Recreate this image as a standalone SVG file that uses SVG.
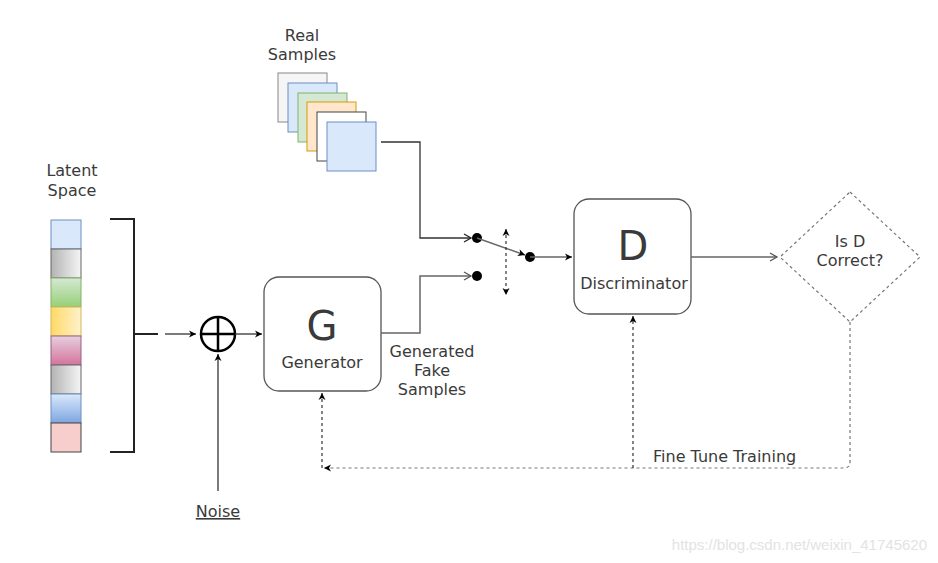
<svg xmlns="http://www.w3.org/2000/svg" width="938" height="563" viewBox="0 0 938 563">
<style>
  text { font-family: "DejaVu Sans", Verdana, sans-serif; fill: #3a3a3a; font-size: 16px; }
  .big { font-size: 40px; }
  .line { fill: none; stroke: #333333; stroke-width: 1.3; }
  .gline { fill: none; stroke: #666666; stroke-width: 1.5; }
  .dash { fill: none; stroke: #333333; stroke-width: 1.2; stroke-dasharray: 3 3; }
  .gdash { fill: none; stroke: #777777; stroke-width: 1.2; stroke-dasharray: 3 3; }
  .node { fill: #ffffff; stroke: #555555; stroke-width: 1.3; }
  .dot { fill: #000000; }
</style>
<defs>
  <marker id="tri" markerWidth="10" markerHeight="10" refX="8" refY="5" orient="auto-start-reverse" markerUnits="userSpaceOnUse">
    <path d="M1,1.5 L8,5 L1,8.5 L3,5 Z" fill="#000000"/>
  </marker>
  <marker id="open" markerWidth="12" markerHeight="12" refX="9" refY="6" orient="auto" markerUnits="userSpaceOnUse">
    <path d="M2,2 L9,6 L2,10" fill="none" stroke="#555555" stroke-width="1.3"/>
  </marker>
  <marker id="openk" markerWidth="12" markerHeight="12" refX="9" refY="6" orient="auto" markerUnits="userSpaceOnUse">
    <path d="M2,2 L9,6 L2,10" fill="none" stroke="#222222" stroke-width="1.3"/>
  </marker>
  <linearGradient id="gGray" x1="0" y1="0" x2="1" y2="0">
    <stop offset="0" stop-color="#b3b3b3"/><stop offset="1" stop-color="#f5f5f5"/>
  </linearGradient>
  <linearGradient id="gYellow" x1="0" y1="0" x2="1" y2="0">
    <stop offset="0" stop-color="#ffd966"/><stop offset="1" stop-color="#fff2cc"/>
  </linearGradient>
  <linearGradient id="gGreen" x1="0" y1="0" x2="0" y2="1">
    <stop offset="0" stop-color="#d5e8d4"/><stop offset="1" stop-color="#97d077"/>
  </linearGradient>
  <linearGradient id="gPink" x1="0" y1="0" x2="0" y2="1">
    <stop offset="0" stop-color="#e6d0de"/><stop offset="1" stop-color="#d5739d"/>
  </linearGradient>
  <linearGradient id="gBlue" x1="0" y1="0" x2="0" y2="1">
    <stop offset="0" stop-color="#dae8fc"/><stop offset="1" stop-color="#7ea6e0"/>
  </linearGradient>
</defs>
<rect width="938" height="563" fill="#ffffff"/>

<g id="latent-space">
  <text x="72" y="176" text-anchor="middle">Latent</text>
  <text x="72" y="196" text-anchor="middle">Space</text>
  <rect x="51" y="220" width="30" height="29" fill="#dae8fc" stroke="#6c8ebf"/>
  <rect x="51" y="249" width="30" height="29" fill="url(#gGray)" stroke="#666666"/>
  <rect x="51" y="278" width="30" height="29" fill="url(#gGreen)" stroke="#82b366"/>
  <rect x="51" y="307" width="30" height="29" fill="url(#gYellow)" stroke="#d6b656"/>
  <rect x="51" y="336" width="30" height="29" fill="url(#gPink)" stroke="#996185"/>
  <rect x="51" y="365" width="30" height="29" fill="url(#gGray)" stroke="#666666"/>
  <rect x="51" y="394" width="30" height="29" fill="url(#gBlue)" stroke="#6c8ebf"/>
  <rect x="51" y="423" width="30" height="29" fill="#f8cecc" stroke="#444444"/>
</g>

<g id="bracket">
  <path d="M110,219 H134 V452 H110 M134,334 H158" fill="none" stroke="#222222" stroke-width="2"/>
</g>

<g id="sum">
  <circle cx="218" cy="334" r="17" fill="#ffffff" stroke="#000000" stroke-width="2.5"/>
  <path d="M201,334 H235 M218,317 V351" stroke="#000000" stroke-width="2.5"/>
</g>

<g id="noise">
  <text x="218" y="517" text-anchor="middle" text-decoration="underline">Noise</text>
</g>

<g id="real-samples">
  <text x="302" y="41" text-anchor="middle">Real</text>
  <text x="302" y="60" text-anchor="middle">Samples</text>
  <rect x="278" y="73" width="49" height="49" fill="#f5f5f5" stroke="#888888"/>
  <rect x="288" y="83" width="49" height="49" fill="#dae8fc" stroke="#6c8ebf"/>
  <rect x="298" y="93" width="49" height="49" fill="#d5e8d4" stroke="#82b366"/>
  <rect x="307" y="102" width="49" height="49" fill="#ffe6cc" stroke="#d79b00"/>
  <rect x="317" y="112" width="49" height="49" fill="#ffffff" stroke="#444444"/>
  <rect x="327" y="122" width="49" height="49" fill="#dae8fc" stroke="#6c8ebf"/>
</g>

<g id="generator">
  <rect class="node" x="264" y="277" width="117" height="114" rx="15"/>
  <text class="big" x="322" y="340" text-anchor="middle">G</text>
  <text x="322" y="368" text-anchor="middle">Generator</text>
</g>

<g id="generated-label">
  <text x="432" y="357" text-anchor="middle">Generated</text>
  <text x="432" y="376" text-anchor="middle">Fake</text>
  <text x="432" y="395" text-anchor="middle">Samples</text>
</g>

<g id="switch">
  <circle class="dot" cx="477" cy="238" r="5"/>
  <circle class="dot" cx="477" cy="276" r="5"/>
  <circle class="dot" cx="530" cy="257" r="5"/>
</g>

<g id="discriminator">
  <rect class="node" x="574" y="199" width="117" height="115" rx="15"/>
  <text class="big" x="633" y="260" text-anchor="middle">D</text>
  <text x="634" y="289" text-anchor="middle">Discriminator</text>
</g>

<g id="decision">
  <path d="M850,192 L920,257 L850,322 L780,257 Z" fill="#ffffff" stroke="#777777" stroke-width="1.2" stroke-dasharray="3 3"/>
  <text x="850" y="247" text-anchor="middle">Is D</text>
  <text x="850" y="266" text-anchor="middle">Correct?</text>
</g>

<g id="connectors">
  <path class="line" d="M165,334 H196" marker-end="url(#tri)"/>
  <path class="line" d="M235,334 H262" marker-end="url(#tri)"/>
  <path class="line" d="M218,491 V354" marker-end="url(#tri)"/>
  <path class="line" d="M381,142 H420 V238 H471" marker-end="url(#openk)"/>
  <path class="gline" d="M381,333 H420 V276 H471" marker-end="url(#open)"/>
  <path class="gline" d="M477,238 L525,255" marker-end="url(#tri)"/>
  <path class="dash" d="M506,229 V295" marker-start="url(#tri)" marker-end="url(#tri)"/>
  <path class="gline" d="M530,257 H572" marker-end="url(#tri)"/>
  <path class="gline" d="M691,257 H777" marker-end="url(#open)"/>
  <path class="gdash" d="M850,322 V462 Q850,468 844,468 H324" marker-end="url(#tri)"/>
  <path class="dash" d="M322,468 V393" marker-end="url(#tri)"/>
  <path class="dash" d="M633,468 V316" marker-end="url(#tri)"/>
  <text x="653" y="462">Fine Tune Training</text>
</g>

<text x="927" y="550" text-anchor="end" style="font-family: 'Liberation Sans', Arial, sans-serif; font-size: 15px; fill: #e3e3e3;">https://blog.csdn.net/weixin_41745620</text>
</svg>
